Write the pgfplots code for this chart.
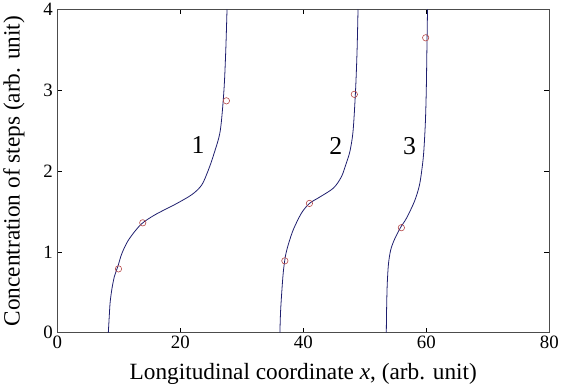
\documentclass[border=0pt]{standalone}
\usepackage{fontspec}
\setmainfont{Liberation Serif}
\usepackage{pgfplots}
\pgfplotsset{compat=1.18}
\definecolor{curve}{RGB}{30,30,110}
\definecolor{mk}{RGB}{180,70,70}
\begin{document}
\begin{tikzpicture}
\begin{axis}[
  scale only axis,
  width=494.7bp, height=325bp,
  xmin=0, xmax=80, ymin=0, ymax=4,
  xtick={0,20,40,60,80}, ytick={0,1,2,3,4},
  tick align=inside, major tick length=5bp,
  tick style={black, line width=0.6pt},
  axis line style={draw=black!70, line width=0.8pt},
  /pgf/number format/assume math mode=true,
  ticklabel style={font=\fontsize{19}{22}\selectfont},
  xticklabel style={yshift=0bp},
  yticklabel style={xshift=-1bp},
  xlabel={Longitudinal coordinate \textit{x}, (arb. unit)},
  ylabel={Concentration of steps (arb. unit)},
  label style={font=\fontsize{23.5}{26}\selectfont},
  xlabel style={at={(axis description cs:0.5,-0.127)}, anchor=center},
  ylabel style={at={(axis description cs:-0.088,0.5)}, anchor=center},
  clip=true,
]
\addplot[curve, line width=0.8pt, smooth, tension=0.5] coordinates {
(8.3,0) (8.45,0.2) (8.6,0.38) (8.9,0.55) (9.3,0.7) (9.85,0.82) (10.5,0.98) (11.6,1.15) (13.6,1.34)
(15.9,1.46) (19.2,1.59) (21.9,1.71) (23.5,1.83) (24.6,2.02) (25.5,2.22)
(26.5,2.5) (27.1,3.0) (27.4,3.5) (27.6,4.0)};
\addplot[curve, line width=0.8pt, smooth, tension=0.5] coordinates {
(36.2,0) (36.3,0.25) (36.5,0.5) (36.75,0.75) (37.1,0.95) (37.6,1.1) (38.4,1.28) (39.7,1.48) (41.0,1.6)
(42.7,1.68) (44.9,1.79) (46.2,1.93) (47.0,2.10) (47.6,2.25) (48.1,2.5)
(48.5,3.0) (48.75,3.5) (48.9,4.0)};
\addplot[curve, line width=0.8pt, smooth, tension=0.5] coordinates {
(53.5,0) (53.55,0.3) (53.65,0.6) (53.85,0.85) (54.2,1.02) (54.8,1.15) (55.8,1.30) (56.8,1.42) (58.1,1.63)
(58.9,1.83) (59.35,2.06) (59.6,2.25) (59.85,2.6) (60.0,3.0) (60.1,3.5) (60.2,4.0)};
\addplot[only marks, mark=o, mark size=3.2bp, mk, mark options={line width=0.6pt}] coordinates {
(9.95,0.79) (13.9,1.36) (27.5,2.87)
(37.0,0.89) (41.0,1.6) (48.3,2.95)
(55.95,1.30) (59.9,3.65)};
\node[font=\fontsize{26}{28}\selectfont] at (axis cs:22.9,2.32) {1};
\node[font=\fontsize{26}{28}\selectfont] at (axis cs:45.3,2.31) {2};
\node[font=\fontsize{26}{28}\selectfont] at (axis cs:57.3,2.31) {3};
\end{axis}
\end{tikzpicture}
\end{document}
